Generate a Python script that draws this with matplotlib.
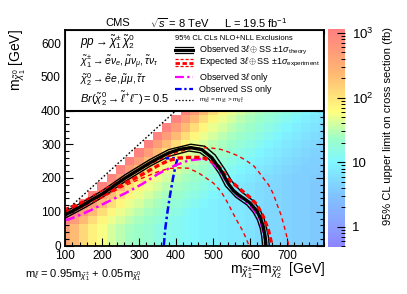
import numpy as np
import matplotlib
matplotlib.use('Agg')
import matplotlib.pyplot as plt
from matplotlib.colors import LinearSegmentedColormap, LogNorm
from matplotlib.lines import Line2D
from matplotlib.patches import Rectangle
from matplotlib.ticker import MultipleLocator, FixedLocator, FixedFormatter

plt.rcParams['font.family'] = ['Liberation Sans', 'DejaVu Sans']
plt.rcParams['mathtext.fontset'] = 'custom'
plt.rcParams['mathtext.rm'] = 'Liberation Sans'
plt.rcParams['mathtext.it'] = 'Liberation Sans:italic'
plt.rcParams['mathtext.bf'] = 'Liberation Sans:bold'
plt.rcParams['mathtext.sf'] = 'Liberation Sans'

# ---------------- data ----------------
# grid: chargino mass (x) 100..800 step 25, LSP mass (y) 0..400 step 25
grid_x = list(range(100, 801, 25))
grid_y = list(range(0, 401, 25))
# log10 of 95% CL upper limit (fb), per x column, from y=0 upward
lim_cols = [
    [2.6, 2.6, 2.7, 3.0],
    [2.35, 2.35, 2.35, 2.7, 3.0],
    [2.1, 2.1, 2.1, 2.35, 2.7, 3.0],
    [1.9, 1.9, 1.9, 2.05, 2.35, 2.7, 3.0],
    [1.75, 1.75, 1.75, 1.85, 2.05, 2.35, 2.7, 3.0],
    [1.6, 1.6, 1.6, 1.7, 1.85, 2.05, 2.35, 2.7, 3.0],
    [1.5, 1.5, 1.5, 1.6, 1.7, 1.85, 2.05, 2.35, 2.7, 3.0],
    [1.4, 1.4, 1.42, 1.5, 1.6, 1.7, 1.85, 2.05, 2.35, 2.7, 3.0],
    [1.35, 1.35, 1.35, 1.42, 1.5, 1.6, 1.7, 1.85, 2.05, 2.35, 2.7, 3.0],
    [1.3, 1.3, 1.3, 1.35, 1.42, 1.5, 1.6, 1.7, 1.85, 2.05, 2.35, 2.7, 3.0],
    [1.2, 1.2, 1.2, 1.27, 1.35, 1.42, 1.5, 1.6, 1.7, 1.85, 2.05, 2.35, 2.7, 3.0],
    [1.15, 1.15, 1.15, 1.18, 1.27, 1.35, 1.42, 1.5, 1.6, 1.7, 1.85, 2.05, 2.35, 2.7, 3.0],
    [1.1, 1.1, 1.1, 1.1, 1.18, 1.27, 1.35, 1.42, 1.5, 1.6, 1.7, 1.85, 2.05, 2.35, 2.7, 3.0],
    [1.05, 1.05, 1.05, 1.05, 1.1, 1.18, 1.27, 1.35, 1.42, 1.5, 1.6, 1.7, 1.85, 2.05, 2.35, 2.7, 3.0],
    [1.0, 1.0, 1.0, 1.0, 1.0, 1.1, 1.18, 1.27, 1.35, 1.42, 1.5, 1.6, 1.7, 1.85, 2.05, 2.35, 2.7],
    [0.95, 0.95, 0.95, 0.95, 0.95, 1.0, 1.1, 1.18, 1.27, 1.35, 1.42, 1.5, 1.6, 1.7, 1.85, 2.05, 2.35],
    [0.95, 0.95, 0.95, 0.95, 0.95, 0.95, 1.0, 1.1, 1.18, 1.27, 1.35, 1.42, 1.5, 1.6, 1.7, 1.85, 2.05],
    [0.9, 0.9, 0.9, 0.9, 0.9, 0.9, 0.92, 1.0, 1.1, 1.18, 1.27, 1.35, 1.42, 1.5, 1.6, 1.7, 1.85],
    [0.85, 0.85, 0.85, 0.85, 0.85, 0.85, 0.85, 0.92, 1.0, 1.1, 1.18, 1.27, 1.35, 1.42, 1.5, 1.6, 1.7],
    [0.85, 0.85, 0.85, 0.85, 0.85, 0.85, 0.85, 0.85, 0.92, 1.0, 1.1, 1.18, 1.27, 1.35, 1.42, 1.5, 1.6],
    [0.8, 0.8, 0.8, 0.8, 0.8, 0.8, 0.8, 0.8, 0.85, 0.92, 1.0, 1.1, 1.18, 1.27, 1.35, 1.42, 1.5],
    [0.75, 0.75, 0.75, 0.75, 0.75, 0.75, 0.75, 0.75, 0.8, 0.85, 0.92, 1.0, 1.1, 1.18, 1.27, 1.35, 1.42],
    [0.7, 0.7, 0.7, 0.7, 0.7, 0.7, 0.7, 0.7, 0.75, 0.8, 0.85, 0.92, 1.0, 1.1, 1.18, 1.27, 1.35],
    [0.7, 0.7, 0.7, 0.7, 0.7, 0.7, 0.7, 0.7, 0.7, 0.75, 0.8, 0.85, 0.92, 1.0, 1.1, 1.18, 1.27],
    [0.65, 0.65, 0.65, 0.65, 0.65, 0.65, 0.65, 0.65, 0.65, 0.7, 0.75, 0.8, 0.85, 0.92, 1.0, 1.1, 1.18],
    [0.6, 0.6, 0.6, 0.6, 0.6, 0.6, 0.6, 0.6, 0.62, 0.65, 0.7, 0.75, 0.8, 0.85, 0.92, 1.0, 1.1],
    [0.6, 0.6, 0.6, 0.6, 0.6, 0.6, 0.6, 0.6, 0.6, 0.62, 0.65, 0.7, 0.75, 0.8, 0.85, 0.92, 1.0],
    [0.55, 0.55, 0.55, 0.55, 0.55, 0.55, 0.55, 0.55, 0.58, 0.6, 0.62, 0.65, 0.7, 0.75, 0.8, 0.85, 0.92],
    [0.55, 0.55, 0.55, 0.55, 0.55, 0.55, 0.55, 0.55, 0.55, 0.58, 0.6, 0.62, 0.65, 0.7, 0.75, 0.8, 0.85],
]

obs_x = [100, 127, 150, 172, 200, 230, 263, 300, 330, 353, 380, 410, 440, 470, 497, 524, 542, 555, 569, 585, 600, 618, 628, 636, 641, 643]
obs_y = [90, 106, 120, 135, 152, 175, 200, 225, 245, 259, 274, 285, 290, 284, 260, 218, 182, 163, 150, 138, 126, 103, 82, 55, 25, 0]
obs_up_x = [100, 150, 200, 263, 330, 380, 440, 478, 506, 533, 551, 576, 608, 627, 638, 645, 650, 652]
obs_up_y = [100, 130, 162, 210, 255, 284, 300, 294, 268, 224, 190, 160, 133, 106, 80, 50, 25, 0]
obs_dn_x = [100, 150, 200, 263, 330, 380, 435, 465, 490, 516, 534, 562, 592, 609, 620, 628, 632, 634]
obs_dn_y = [81, 110, 142, 190, 235, 264, 280, 275, 255, 214, 176, 143, 120, 98, 76, 50, 25, 0]

exp_x = [100, 109, 150, 218, 260, 308, 350, 380, 407, 434, 461, 480, 500, 516, 530, 542, 569, 596, 618, 637, 650, 657, 659]
exp_y = [100, 106, 126, 157, 183, 210, 236, 252, 259, 261, 261, 258, 248, 234, 213, 196, 171, 146, 122, 83, 45, 12, 0]
exp_up_x = [100, 150, 200, 250, 300, 350, 400, 440, 489, 520, 542, 565, 588, 610, 623, 637, 650, 663, 673, 683, 691, 698, 705]
exp_up_y = [109, 133, 163, 194, 224, 252, 275, 287, 290, 285, 277, 267, 253, 236, 219, 198, 180, 153, 122, 93, 63, 33, 0]
exp_dn_x = [100, 150, 200, 250, 300, 350, 380, 407, 434, 461, 480, 502, 520, 533, 551, 565, 578, 590, 597]
exp_dn_y = [92, 115, 142, 171, 196, 218, 228, 230, 229, 215, 201, 184, 162, 140, 102, 73, 48, 20, 0]

m3l_x = [100, 109, 140, 172, 220, 263, 310, 353, 397, 434, 470, 485, 500, 515, 530, 545, 565, 590, 610, 625, 634, 639, 641]
m3l_y = [77, 77, 90, 106, 132, 155, 183, 213, 237, 252, 257, 254, 243, 224, 200, 178, 150, 129, 107, 80, 50, 20, 0]

ss_x = [367, 371, 377, 384, 392, 399, 404, 395, 372]
ss_y = [0, 50, 100, 150, 200, 238, 256, 259, 258]

diag_x = [100, 640]
diag_y = [100, 640]

cbar_ticks = [1, 10, 100, 1000]
cbar_labels = ['1', '10', r'10$^{2}$', r'10$^{3}$']

# ---------------- figure ----------------
W, H = 407, 294
fig = plt.figure(figsize=(W / 100, H / 100), dpi=100)

def fx(px):
    return px / W

def fy(py):
    return 1 - py / H

ax = fig.add_axes([fx(65), fy(245.5), fx(324) - fx(65), fy(29.5) - fy(245.5)])
cax = fig.add_axes([fx(327.5), fy(247), fx(345) - fx(327.5), fy(29) - fy(247)])

cmap = LinearSegmentedColormap.from_list('rootpastel', [
    (0.00, (0.55, 0.52, 1.00)),
    (0.09, (0.55, 0.62, 1.00)),
    (0.24, (0.50, 0.77, 1.00)),
    (0.39, (0.50, 0.97, 1.00)),
    (0.50, (0.62, 1.00, 0.78)),
    (0.62, (1.00, 1.00, 0.50)),
    (0.80, (1.00, 0.72, 0.45)),
    (1.00, (1.00, 0.50, 0.50)),
])
norm = LogNorm(vmin=0.49, vmax=1150)

Z = np.full((len(grid_y), len(grid_x)), np.nan)
for i, col in enumerate(lim_cols):
    for j, v in enumerate(col):
        Z[j, i] = 10 ** v
Zm = np.ma.masked_invalid(Z)
xe = np.concatenate([[grid_x[0] - 12.5], np.array(grid_x) + 12.5])
ye = np.concatenate([[grid_y[0] - 12.5], np.array(grid_y) + 12.5])
mesh = ax.pcolormesh(xe, ye, Zm, cmap=cmap, norm=norm, zorder=1)

# curves
ax.plot(obs_up_x, obs_up_y, color='k', lw=1.0, zorder=3)
ax.plot(obs_dn_x, obs_dn_y, color='k', lw=1.0, zorder=3)
ax.plot(exp_up_x, exp_up_y, color='red', lw=1.0, ls=(0, (3, 2.5)), zorder=3)
ax.plot(exp_dn_x, exp_dn_y, color='red', lw=1.0, ls=(0, (3, 2.5)), zorder=3)
ax.plot(ss_x, ss_y, color='blue', lw=1.8, ls=(0, (3, 1.2, 1, 1.2)), zorder=3)
ax.plot(m3l_x, m3l_y, color='magenta', lw=1.8, ls=(0, (4, 1.5, 1, 1.5)), zorder=3)
ax.plot(exp_x, exp_y, color='red', lw=2.4, ls=(0, (1.6, 0.9)), zorder=3)
ax.plot(obs_x, obs_y, color='k', lw=2.4, zorder=3)
ax.plot(diag_x, diag_y, color='k', lw=1.0, ls=(0, (1.2, 1.5)), zorder=3)

# legend box covering upper part
ax.add_patch(Rectangle((100, 400), 700, 240, facecolor='white', edgecolor='k', lw=1.5, zorder=4))

ax.set_xlim(100, 800)
ax.set_ylim(0, 640)
ax.xaxis.set_major_locator(FixedLocator([100, 200, 300, 400, 500, 600, 700]))
ax.xaxis.set_minor_locator(MultipleLocator(20))
ax.yaxis.set_major_locator(MultipleLocator(100))
ax.yaxis.set_minor_locator(MultipleLocator(20))
ax.tick_params(which='both', direction='in', top=True, right=True, labelsize=8.5, width=0.8)
ax.tick_params(which='major', length=6, pad=3)
ax.tick_params(which='minor', length=3)
for s in ax.spines.values():
    s.set_linewidth(1.3)
    s.set_zorder(5)

# colorbar
cb = fig.colorbar(mesh, cax=cax)
cb.outline.set_visible(False)
cax.yaxis.set_major_locator(FixedLocator(cbar_ticks))
cax.yaxis.set_major_formatter(FixedFormatter(cbar_labels))
cax.tick_params(which='major', direction='in', length=6, width=0.8, labelsize=9.5, pad=5)
cax.tick_params(which='minor', direction='in', length=3, width=0.7)

# titles
fig.text(fx(118), fy(23), 'CMS', ha='center', va='center', fontsize=8)
fig.text(fx(180), fy(23), r'$\sqrt{s}$ = 8 TeV', ha='center', va='center', fontsize=8)
fig.text(fx(256), fy(23), r'L = 19.5 fb$^{-1}$', ha='center', va='center', fontsize=8)

# physics text
fig.text(fx(80), fy(45), r'$pp \rightarrow \tilde{\chi}^{\pm}_{1}\,\tilde{\chi}^{0}_{2}$', ha='left', va='baseline', fontsize=8.5)
fig.text(fx(80), fy(65), r'$\tilde{\chi}^{\pm}_{1} \rightarrow \tilde{e}\nu_{e}, \tilde{\mu}\nu_{\mu}, \tilde{\tau}\nu_{\tau}$', ha='left', va='baseline', fontsize=7.5)
fig.text(fx(80), fy(83), r'$\tilde{\chi}^{0}_{2} \rightarrow \tilde{e}e, \tilde{\mu}\mu, \tilde{\tau}\tau$', ha='left', va='baseline', fontsize=7.5)
fig.text(fx(80), fy(103), r'$Br(\tilde{\chi}^{0}_{2} \rightarrow \tilde{\ell}^{+}\ell^{-}) = 0.5$', ha='left', va='baseline', fontsize=8)

# legend entries
fig.text(fx(175), fy(38.5), '95% CL CLs NLO+NLL Exclusions', ha='left', va='center', fontsize=5.5)
x0, x1, xt = fx(175), fx(193), fx(199)

def hline(py, **kw):
    fig.add_artist(Line2D([x0, x1], [fy(py), fy(py)], transform=fig.transFigure, **kw))

hline(47, color='k', lw=0.9)
hline(50, color='k', lw=2.2)
hline(53, color='k', lw=0.9)
fig.text(xt, fy(50), r'Observed 3$\ell\oplus$SS $\pm$1$\sigma_{\mathrm{theory}}$', ha='left', va='center', fontsize=6.5)
hline(59, color='red', lw=0.9, ls=(0, (2.5, 1.5)))
hline(62.5, color='red', lw=2.0, ls=(0, (1.6, 0.9)))
hline(66, color='red', lw=0.9, ls=(0, (2.5, 1.5)))
fig.text(xt, fy(62.5), r'Expected 3$\ell\oplus$SS $\pm$1$\sigma_{\mathrm{experiment}}$', ha='left', va='center', fontsize=6.5)
hline(77, color='magenta', lw=1.6, ls=(0, (4, 1.5, 1, 1.5)))
fig.text(xt, fy(77), r'Observed 3$\ell$ only', ha='left', va='center', fontsize=6.5)
hline(89, color='blue', lw=1.6, ls=(0, (3, 1.2, 1, 1.2)))
fig.text(xt, fy(89), 'Observed SS only', ha='left', va='center', fontsize=6.5)
hline(100, color='k', lw=0.9, ls=(0, (1.2, 1.5)))
fig.text(xt, fy(100), r'$\mathrm{m}_{\tilde{\chi}^{0}_{2}}$ = $\mathrm{m}_{\tilde{\chi}^{\pm}_{1}}$ > $\mathrm{m}_{\tilde{\chi}^{0}_{1}}$', ha='left', va='center', fontsize=4.5)

# axis labels
fig.text(fx(18), fy(29.5), r'$\mathrm{m}_{\tilde{\chi}^{0}_{1}}$ [GeV]', rotation=90, ha='center', va='top', fontsize=10)
fig.text(fx(325), fy(274), r'$\mathrm{m}_{\tilde{\chi}^{\pm}_{1}}$=$\mathrm{m}_{\tilde{\chi}^{0}_{2}}$  [GeV]', ha='right', va='baseline', fontsize=10)
fig.text(fx(388), fy(27), '95% CL upper limit on cross section (fb)', rotation=90, ha='center', va='top', fontsize=8)
fig.text(fx(25), fy(277), r'$\mathrm{m}_{\tilde{\ell}}$ = 0.95$\mathrm{m}_{\tilde{\chi}^{\pm}_{1}}$ + 0.05$\mathrm{m}_{\tilde{\chi}^{0}_{1}}$', ha='left', va='baseline', fontsize=8)

fig.savefig('out.png', dpi=100)
